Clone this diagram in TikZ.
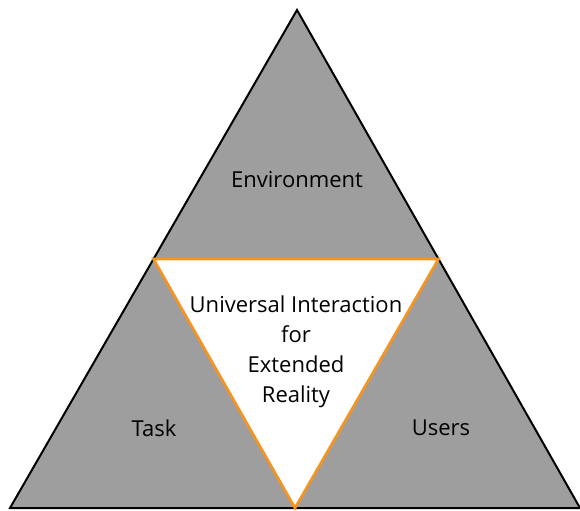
\documentclass[tikz,border=0pt]{standalone}
\usepackage{fontspec}
\setmainfont{Open Sans}
\usetikzlibrary{calc}
\definecolor{triGray}{RGB}{158,158,158}
\definecolor{triOrange}{RGB}{247,148,29}
\newcommand{\labelSize}[0]{\fontsize{16.5}{22.5}\selectfont}

\begin{document}
\begin{tikzpicture}[x=0.75pt, y=-0.75pt]
  \tikzset{outer/.style={fill=triGray, draw=black, line width=1.5pt, line join=miter},
    inner/.style={fill=white, draw=triOrange, line width=2pt, line join=miter},
    label/.style={align=center, font=\labelSize, inner sep=0pt}}
  \useasboundingbox (0,0) rectangle (580,510);
  \coordinate (apex) at (297,10);
  \coordinate (left) at (10,508);
  \coordinate (right) at (580,508);
  \coordinate (midL) at ($(apex)!0.5!(left)$);
  \coordinate (midR) at ($(apex)!0.5!(right)$);
  \coordinate (midB) at ($(left)!0.5!(right)$);
  \draw[outer] (apex) -- (left) -- (right) -- cycle;
  \draw[inner] (midL) -- (midR) -- (midB) -- cycle;
  \node[label] (env) at (297,180) {Environment};
  \node[label] (task) at (154,428) {Task};
  \node[label] (users) at (441,428) {Users};
  \node[label] (uixr) at (296,352) {Universal Interaction\\for\\Extended\\Reality};
\end{tikzpicture}
\end{document}
